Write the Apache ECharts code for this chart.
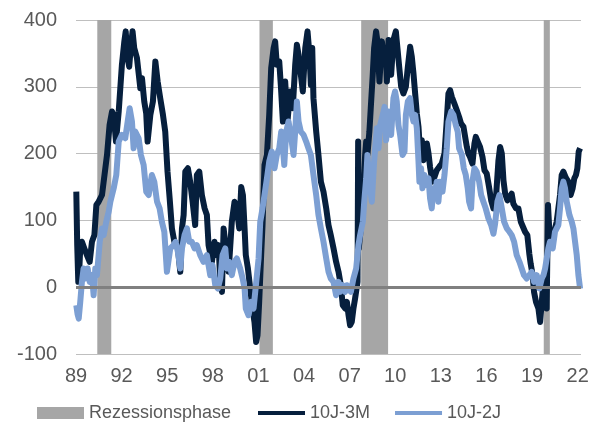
<!DOCTYPE html>
<html><head><meta charset="utf-8">
<script src="https://cdn.jsdelivr.net/npm/echarts@6/dist/echarts.min.js"></script>
<style>html,body{margin:0;padding:0;background:#fff}#c{width:595px;height:423px}</style>
</head><body><div id="c"></div>
<script>
const yTicks = [-100, 0, 100, 200, 300, 400];
const xYears = [1989, 1992, 1995, 1998, 2001, 2004, 2007, 2010, 2013, 2016, 2019, 2022];
const seriesNames = ['Rezessionsphase', '10J-3M', '10J-2J'];
const recessions = [[1990.40, 1991.32], [2001.07, 2001.95], [2007.76, 2009.53], [2019.77, 2020.17]];
const spread10y3m = [
[1989.02,143],[1989.08,63],[1989.15,8],[1989.20,18],[1989.28,58],[1989.39,68],[1989.55,58],[1989.72,48],[1989.90,38],
[1990.05,68],[1990.21,78],[1990.34,123],[1990.49,128],[1990.71,138],[1990.82,158],[1991.04,198],[1991.21,243],[1991.37,263],
[1991.48,258],[1991.63,218],[1991.81,263],[1992.02,333],[1992.18,368],[1992.27,383],[1992.38,345],[1992.50,330],[1992.60,358],
[1992.72,383],[1992.83,358],[1993.01,343],[1993.23,298],[1993.34,313],[1993.49,278],[1993.62,260],[1993.71,218],[1993.89,258],
[1994.06,278],[1994.22,338],[1994.37,308],[1994.54,283],[1994.72,258],[1994.87,233],[1995.02,173],[1995.16,133],[1995.31,88],
[1995.47,68],[1995.60,70],[1995.70,60],[1995.86,23],[1995.97,88],[1996.08,108],[1996.19,173],[1996.36,178],[1996.51,158],
[1996.67,128],[1996.84,93],[1996.95,168],[1997.11,173],[1997.28,138],[1997.46,118],[1997.61,108],[1997.72,63],[1997.94,38],
[1998.11,68],[1998.27,48],[1998.38,63],[1998.49,8],[1998.60,-7],[1998.71,88],[1998.86,58],[1999.04,23],[1999.25,98],
[1999.43,128],[1999.58,118],[1999.74,88],[1999.87,150],[1999.98,138],[2000.09,88],[2000.17,48],[2000.31,28],[2000.46,-2],
[2000.61,-32],[2000.74,-52],[2000.85,-82],[2000.94,-72],[2001.05,-22],[2001.18,48],[2001.27,93],[2001.40,183],[2001.56,198],
[2001.71,258],[2001.84,328],[2002.00,358],[2002.10,368],[2002.21,333],[2002.37,338],[2002.48,300],[2002.61,248],[2002.76,308],
[2002.91,248],[2003.09,293],[2003.26,268],[2003.42,333],[2003.53,363],[2003.64,348],[2003.79,318],[2003.92,293],[2004.08,358],
[2004.23,383],[2004.36,348],[2004.45,303],[2004.54,358],[2004.62,283],[2004.80,233],[2004.95,198],[2005.11,158],[2005.28,143],
[2005.46,118],[2005.61,93],[2005.76,78],[2005.94,58],[2006.11,38],[2006.27,23],[2006.42,3],[2006.55,-27],[2006.71,-32],
[2006.82,-22],[2006.93,-42],[2007.03,-57],[2007.14,-52],[2007.25,-32],[2007.36,-17],[2007.52,8],[2007.56,218],[2007.60,58],
[2007.69,78],[2007.80,108],[2007.91,138],[2008.02,198],[2008.09,218],[2008.17,198],[2008.30,233],[2008.39,268],[2008.52,318],
[2008.61,358],[2008.74,383],[2008.83,368],[2008.96,308],[2009.12,368],[2009.27,338],[2009.38,350],[2009.45,308],[2009.56,370],
[2009.73,318],[2009.88,370],[2010.04,383],[2010.17,385],[2010.26,330],[2010.39,300],[2010.54,290],[2010.70,300],[2010.83,330],
[2010.98,360],[2011.09,345],[2011.20,320],[2011.31,290],[2011.42,260],[2011.53,240],[2011.64,200],[2011.75,220],[2011.86,190],
[2011.97,200],[2012.08,215],[2012.19,200],[2012.29,180],[2012.45,158],[2012.58,165],[2012.73,175],[2012.89,180],[2013.06,185],
[2013.24,200],[2013.39,250],[2013.50,290],[2013.61,295],[2013.72,285],[2013.89,275],[2014.05,265],[2014.20,255],[2014.33,245],
[2014.49,240],[2014.60,225],[2014.71,210],[2014.81,200],[2014.92,195],[2015.08,185],[2015.21,215],[2015.30,225],[2015.43,218],
[2015.58,210],[2015.74,195],[2015.87,175],[2016.02,170],[2016.17,150],[2016.31,130],[2016.46,118],[2016.57,120],[2016.63,135],
[2016.79,190],[2016.90,210],[2017.01,200],[2017.12,160],[2017.23,140],[2017.38,130],[2017.51,135],[2017.66,140],[2017.77,125],
[2017.95,118],[2018.10,118],[2018.26,98],[2018.39,98],[2018.54,83],[2018.69,78],[2018.82,50],[2018.91,35],[2019.04,18],
[2019.13,-7],[2019.26,-22],[2019.42,-32],[2019.53,-52],[2019.64,-22],[2019.75,8],[2019.86,-2],[2019.96,-32],[2020.05,123],
[2020.14,83],[2020.23,68],[2020.36,78],[2020.51,88],[2020.62,98],[2020.73,118],[2020.84,138],[2020.95,168],[2021.06,173],
[2021.24,163],[2021.39,158],[2021.54,138],[2021.67,148],[2021.78,163],[2021.89,168],[2021.98,178],[2022.07,203],[2022.16,208]
];
const spread10y2y = [
[1989.02,-27],[1989.10,-40],[1989.18,-47],[1989.28,-22],[1989.39,8],[1989.50,28],[1989.61,13],[1989.77,28],[1989.90,8],
[1990.05,18],[1990.16,-12],[1990.27,28],[1990.38,18],[1990.56,68],[1990.71,88],[1990.82,78],[1990.99,98],[1991.15,113],
[1991.26,128],[1991.48,148],[1991.65,168],[1991.81,218],[1992.02,228],[1992.24,223],[1992.40,248],[1992.53,268],[1992.68,248],
[1992.79,208],[1992.90,233],[1993.12,223],[1993.27,198],[1993.45,183],[1993.62,143],[1993.78,138],[1993.99,168],[1994.15,158],
[1994.33,128],[1994.50,118],[1994.65,98],[1994.81,83],[1994.98,23],[1995.20,58],[1995.42,63],[1995.55,68],[1995.70,53],
[1995.86,28],[1995.97,58],[1996.14,78],[1996.30,88],[1996.45,68],[1996.62,68],[1996.80,58],[1996.95,63],[1997.17,48],
[1997.39,38],[1997.61,48],[1997.83,18],[1997.98,33],[1998.16,3],[1998.33,-2],[1998.49,13],[1998.64,48],[1998.82,58],
[1998.93,28],[1999.08,38],[1999.25,18],[1999.43,38],[1999.58,43],[1999.80,28],[1999.96,13],[2000.09,-2],[2000.17,-32],
[2000.35,-42],[2000.53,-22],[2000.68,-32],[2000.79,-7],[2000.90,18],[2001.01,43],[2001.12,98],[2001.27,118],[2001.40,138],
[2001.56,163],[2001.71,188],[2001.88,203],[2002.06,178],[2002.21,198],[2002.37,208],[2002.50,233],[2002.61,208],[2002.70,183],
[2002.83,233],[2002.98,248],[2003.13,228],[2003.31,198],[2003.42,233],[2003.53,278],[2003.64,248],[2003.79,233],[2003.97,228],
[2004.14,218],[2004.29,208],[2004.45,198],[2004.62,168],[2004.80,138],[2004.95,108],[2005.11,88],[2005.28,68],[2005.46,43],
[2005.61,23],[2005.76,13],[2005.94,8],[2006.11,-12],[2006.27,8],[2006.38,-7],[2006.55,3],[2006.71,-7],[2006.82,3],
[2006.93,-2],[2007.08,-7],[2007.25,13],[2007.43,28],[2007.58,63],[2007.69,78],[2007.87,98],[2007.96,128],[2008.09,163],
[2008.17,198],[2008.30,158],[2008.46,128],[2008.61,188],[2008.79,238],[2008.90,208],[2009.01,243],[2009.18,258],[2009.30,270],
[2009.40,220],[2009.56,263],[2009.73,228],[2009.88,283],[2009.99,293],[2010.10,278],[2010.21,243],[2010.32,228],[2010.48,198],
[2010.61,203],[2010.70,258],[2010.83,278],[2010.98,283],[2011.09,258],[2011.20,248],[2011.31,258],[2011.42,238],[2011.53,188],
[2011.59,158],[2011.70,178],[2011.79,148],[2011.92,168],[2012.01,153],[2012.19,163],[2012.29,133],[2012.40,118],[2012.51,148],
[2012.62,138],[2012.73,158],[2012.84,128],[2012.95,158],[2013.11,143],[2013.24,168],[2013.39,208],[2013.50,248],[2013.68,263],
[2013.83,258],[2013.98,243],[2014.11,233],[2014.20,208],[2014.38,198],[2014.51,178],[2014.64,168],[2014.77,148],[2014.86,128],
[2014.99,118],[2015.08,158],[2015.21,178],[2015.36,173],[2015.52,158],[2015.65,138],[2015.80,128],[2015.95,118],[2016.13,103],
[2016.31,93],[2016.46,80],[2016.57,95],[2016.72,128],[2016.85,138],[2017.01,118],[2017.16,98],[2017.34,88],[2017.51,83],
[2017.66,78],[2017.82,68],[2017.99,48],[2018.17,38],[2018.32,28],[2018.47,18],[2018.65,13],[2018.82,18],[2018.98,23],
[2019.13,8],[2019.31,18],[2019.48,-2],[2019.64,13],[2019.75,18],[2019.86,28],[2019.96,28],[2020.07,58],[2020.18,68],
[2020.36,58],[2020.51,83],[2020.62,88],[2020.73,93],[2020.84,118],[2020.95,148],[2021.06,158],[2021.17,148],[2021.28,128],
[2021.46,108],[2021.61,98],[2021.72,88],[2021.83,68],[2021.94,48],[2022.05,18],[2022.16,-2]
];

const DARK = '#061f3d', LIGHT = '#7c9fd3', GREY = '#a6a6a6', TXT = '#595959';
const FONT = 'Liberation Sans, Arial, sans-serif';
const chart = echarts.init(document.getElementById('c'), null, {renderer: 'canvas'});
chart.setOption({
  animation: false,
  textStyle: {fontFamily: FONT},
  grid: {left: 76, right: 14, top: 20, bottom: 69, containLabel: false},
  legend: [
    {
      left: 37, top: 404, padding: 0, itemWidth: 47, itemHeight: 12, icon: 'rect',
      textStyle: {color: TXT, fontSize: 18, fontFamily: FONT},
      data: [seriesNames[0]]
    },
    {
      left: 258, top: 404, padding: 0, itemGap: 25, itemWidth: 47, itemHeight: 4, icon: 'rect',
      textStyle: {color: TXT, fontSize: 18, fontFamily: FONT},
      data: [seriesNames[1], seriesNames[2]]
    }
  ],
  xAxis: {
    type: 'value', min: xYears[0], max: 2022.22, interval: 3,
    axisLine: {show: false}, axisTick: {show: false}, splitLine: {show: false},
    axisLabel: {
      color: TXT, fontSize: 20, margin: 12, showMaxLabel: false,
      formatter: v => (xYears.indexOf(v) >= 0 ? String(v).slice(2) : '')
    }
  },
  yAxis: {
    type: 'value', min: yTicks[0], max: yTicks[yTicks.length - 1], interval: 100,
    axisLine: {show: false}, axisTick: {show: false},
    splitLine: {lineStyle: {color: '#bfbfbf', width: 1}},
    axisLabel: {color: TXT, fontSize: 20, margin: 19}
  },
  series: [
    {
      name: seriesNames[0], type: 'custom', z: 1, silent: true,
      itemStyle: {color: GREY},
      encode: {x: [0, 1]},
      data: recessions,
      renderItem: function (params, api) {
        const a = api.coord([api.value(0), 0]);
        const b = api.coord([api.value(1), 0]);
        const cs = params.coordSys;
        return {type: 'rect', shape: {x: a[0], y: cs.y, width: b[0] - a[0], height: cs.height},
                style: {fill: GREY}};
      }
    },
    {
      name: 'zero', type: 'line', z: 2, data: [], silent: true,
      markLine: {symbol: 'none', silent: true, label: {show: false},
        lineStyle: {color: '#808080', width: 3, type: 'solid'}, data: [{yAxis: 0}]}
    },
    {
      name: seriesNames[1], type: 'line', z: 3, data: spread10y3m, symbol: 'none',
      lineStyle: {color: DARK, width: 6, join: 'round'}, itemStyle: {color: DARK}
    },
    {
      name: seriesNames[2], type: 'line', z: 4, data: spread10y2y, symbol: 'none',
      lineStyle: {color: LIGHT, width: 6, join: 'round'}, itemStyle: {color: LIGHT}
    }
  ]
});
</script>
</body></html>
